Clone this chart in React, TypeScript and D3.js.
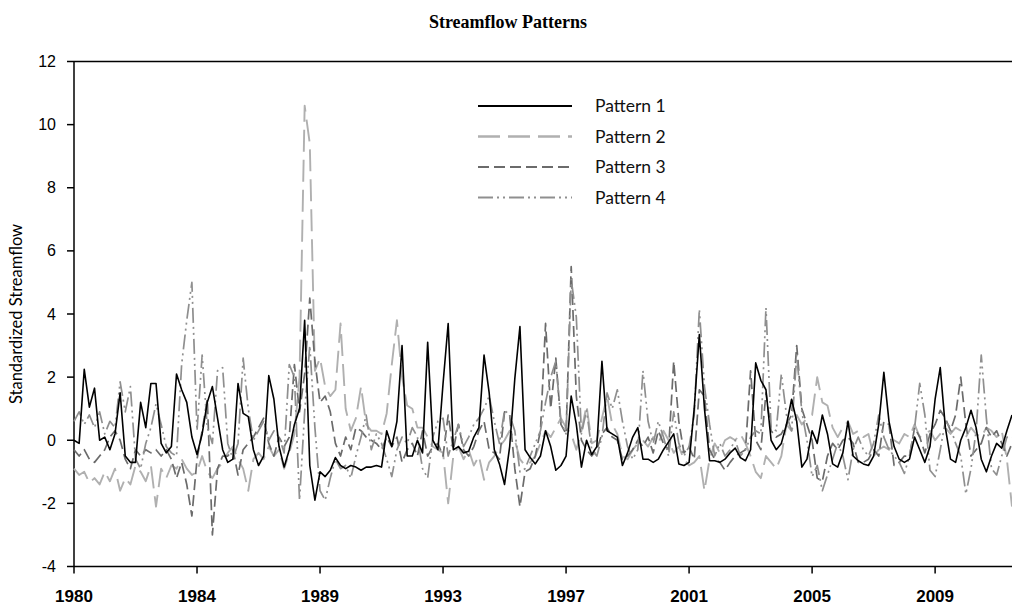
import * as d3 from 'd3'

// bi-monthly samples, Jan 1980 .. mid 2010
const YEAR_LABELS = ['1980', '1984', '1989', '1993', '1997', '2001', '2005', '2009']
const YEAR_INDEX = [0, 24, 48, 72, 96, 120, 144, 168]

const PATTERN_1 = [
  0.0, -0.1, 2.25, 1.05, 1.65, 0.0, 0.1, -0.3, 0.2, 1.5,
  -0.5, -0.7, -0.7, 1.2, 0.4, 1.8, 1.8, -0.1, -0.4, -0.2,
  2.1, 1.6, 1.2, 0.1, -0.45, 0.2, 1.2, 1.7, 0.7, -0.3,
  -0.7, -0.6, 1.8, 0.85, 0.75, -0.3, -0.8, -0.5, 2.05, 1.3,
  -0.2, -0.85, -0.3, 0.5, 1.0, 3.8, -0.8, -1.9, -1.0, -1.15,
  -0.95, -0.55, -0.8, -0.9, -0.8, -0.85, -0.95, -0.85, -0.85, -0.8,
  -0.85, 0.3, -0.2, 0.6, 3.0, -0.5, -0.5, 0.0, -0.4, 3.1,
  0.0, -0.3, 1.8, 3.7, -0.3, -0.2, -0.4, -0.35, 0.1, 0.4,
  2.7, 1.5, -0.3, -0.75, -1.4, -0.2, 1.95, 3.6, -0.3, -0.55,
  -0.75, -0.5, 0.3, -0.2, -0.95, -0.8, -0.5, 1.4, 0.5, -0.85,
  0.0, -0.45, -0.2, 2.5, 0.3, 0.2, 0.1, -0.8, -0.4, 0.1,
  0.4, -0.6, -0.6, -0.7, -0.6, -0.3, -0.05, 0.2, -0.75, -0.8,
  -0.7, 1.0, 3.35, 1.0, -0.65, -0.65, -0.7, -0.6, -0.4, -0.25,
  -0.55, -0.65, -0.3, 2.45, 1.9, 1.6, 0.0, -0.3, -0.1, 0.5,
  1.3, 0.6, -0.85, -0.6, 0.3, -0.1, 0.8, 0.2, -0.75, -0.85,
  -0.4, 0.6, -0.5, -0.65, -0.75, -0.8, -0.5, 0.5, 2.15, 0.6,
  -0.2, -0.6, -0.7, -0.6, 0.1, -0.3, -0.7, -0.2, 1.3, 2.3,
  0.4, -0.6, -0.7, 0.0, 0.4, 0.95, 0.4, -0.6, -1.0, -0.5,
  -0.1, -0.25, 0.3, 0.8,
]

const PATTERN_2 = [
  -0.9, -1.1, -1.0, -1.35, -1.2, -1.4, -1.0, -1.3, -0.9, -1.6,
  -1.2, -1.4, -0.8, -1.0, -1.3, -0.8, -2.1, -0.9, -1.2, -0.8,
  -0.9, -0.6, -0.9, -1.1, -1.0, -0.5, -1.0, -1.2, -0.9, -0.7,
  -0.4, -0.2, -0.6, -0.9, -1.6, -0.6, -0.4, -0.6, -0.2, -0.5,
  -0.3, -0.9, -0.4, 0.2, 2.0, 10.6, 9.4, 2.2, 2.6, 1.7,
  1.4, 1.6, 3.7, 1.0, 0.3, 0.7, 1.7, 0.5, 0.3, 0.3,
  0.2, 0.85, 2.4, 3.8, 2.0, 1.1, 1.0, 0.4, 0.4, 0.1,
  -0.2, -0.3, -0.4, -2.0, -0.5, -0.2, -0.6, -0.3, -0.8, -0.5,
  -1.25, -0.7, -0.5, -0.2, 0.0, 0.3, 0.0, -0.6, -0.8, -0.7,
  -0.5, -0.1, 0.3, 0.1, 0.4, 0.7, 0.4, 0.2, -0.3, 0.3,
  1.1, -0.1, 0.0, 0.7, 1.4, 0.5, 0.2, -0.5, -0.6, -0.3,
  -0.1, 0.0, -0.2, 0.1, -0.1, 0.3, 0.0, -0.4, -0.2, -0.6,
  -0.8, -0.7, -0.5, -1.6, -0.6, -0.1, -0.4, 0.0, 0.1, 0.0,
  0.2, -0.1, -0.5, -1.0, -1.2, -0.5, -0.7, -0.9, -0.5, 0.5,
  0.3, 0.8, 0.5, 0.7, 0.8, 2.0, 1.2, 1.1, 0.4, 0.1,
  0.4, 0.6, 0.2, 0.3, 0.1, 0.2, -0.5, -0.3, -0.2, -0.3,
  0.0, -0.1, 0.2, 0.1, 0.5, 0.1, 0.2, 0.3, 0.0, 0.2,
  0.4, 0.2, 0.4, 0.3, 0.1, 0.4, 0.2, 0.1, 0.4, 0.3,
  0.1, 0.3, -0.6, -2.1,
]

const PATTERN_3 = [
  -0.3, -0.5, -0.3, -0.6, -0.7, -0.5, -0.3, 0.1, 0.3, 0.0,
  -0.6, -0.9, -0.3, -0.5, -0.3, -0.4, -0.3, -0.5, -0.3, -0.6,
  -1.2, -0.7, -1.4, -2.4, -0.6, 0.3, 1.3, -3.0, -0.9, -0.5,
  -0.5, -0.3, -1.1, -0.3, -0.1, 0.1, 0.4, 0.7, -0.1, -0.5,
  0.1, -0.2, 0.1, 2.4, 0.9, 2.1, 4.5, 2.5, 1.2, 1.4,
  0.9, -0.1, -0.5, 0.1, -0.3, 0.4, 0.3, 0.1, 0.0, -0.1,
  -0.3, 0.1, -0.2, 0.1, -0.7, -0.3, -0.1, -0.5, 0.3, -0.5,
  -0.2, -0.1, -0.5, 0.8, -0.3, 0.5, -0.3, -0.5, -0.2, 0.3,
  0.6, -0.3, -0.4, -0.6, 0.9, 0.8, -0.9, -2.1, -1.0, -0.9,
  -0.5, 0.3, 3.7, 1.0, 2.6, 0.5, 0.2, 5.5, 1.4, 0.0,
  -0.3, -0.5, -0.3, 0.2, 0.4, 0.1, 0.0, -0.6, -0.5, -0.3,
  0.0, -0.2, 0.1, -0.4, 0.3, -0.1, -0.3, 2.5, 0.6, -0.4,
  -0.2, -0.6, 1.6, 1.4, -0.3, -0.6, -0.7, -0.95, -0.7, -0.5,
  -0.4, -0.3, 2.2, 0.0, -0.3, 1.5, 0.3, 0.1, 0.2, 0.5,
  0.8, 3.0, 1.0, 0.5, 0.0, -1.2, -1.3, -0.5, -0.1, -0.3,
  0.0, 0.1, -0.1, -0.7, -0.7, -0.6, -0.3, -0.5, 0.6, 0.5,
  -0.8, -0.7, -0.5, -0.5, 0.4, 0.1, -0.4, 0.2, 0.5, 0.95,
  0.7, 0.3, 0.8, 2.0, 0.5, -0.5, -0.3, -0.1, 0.4, 0.1,
  0.3, -0.1, -0.5, -0.1,
]

const PATTERN_4 = [
  0.6, 0.9, 0.5, 0.8, 0.4, 0.9, 0.2, 0.6, 0.4, 1.85,
  0.9, 1.7, -0.6, -0.9, -0.1, 0.4, 1.15, 0.5, -0.2, -0.4,
  -0.5, 2.4, 3.8, 5.0, 0.3, 2.7, 0.4, -0.1, 2.2, 2.3,
  -0.1, -0.6, -0.1, 2.6, 1.0, 0.0, 0.3, 0.6, 0.0, 0.3,
  0.1, -0.4, 2.4, 2.0, -1.9, 0.9, 3.0, 0.4, -1.6, -1.9,
  -1.2, -0.6, -0.9, -0.8, -1.2, -0.5, 0.1, 0.8, -0.3, 0.2,
  -0.1, -0.6, -1.15, -0.3, 0.1, -0.1, 0.4, 0.1, -0.9, -1.2,
  0.1, 0.6, 0.7, -0.5, 0.0, 0.5, -0.2, 0.1, 0.5, 0.7,
  1.0, 1.4, 0.6, -0.1, 0.95, 0.8, 0.3, -1.0, -0.9, -0.5,
  -0.1, 0.3, 1.2, 2.0, 2.5, 0.6, 0.2, 5.1, 3.9, 0.2,
  0.95, -0.3, -0.5, 0.1, 1.5, 1.0, 1.6, 0.6, -0.2, -0.6,
  -0.3, 2.2, 0.6, -0.1, 0.6, 0.1, -0.5, 0.9, -0.1, -0.5,
  -0.2, 0.8, 4.15, 1.7, 0.5, -0.5, -0.1, -0.5, -0.3, 0.0,
  -0.5, -0.3, 0.1, 0.3, 0.2, 4.2, 0.4, 0.3, 2.1, 0.8,
  0.3, 2.7, 0.9, 0.0, -1.15, -0.8, -1.6, -1.1, -0.6, -0.1,
  -0.5, -1.25, -0.3, 0.1, -0.3, -0.5, -0.1, 0.8, 0.1, -0.3,
  -0.5, -0.7, -1.05, -0.5, 0.4, 1.8, 0.8, -0.95, -1.15, -0.3,
  0.6, 0.4, -0.1, -0.5, -1.7, -0.9, 0.3, 2.7, 0.7, -0.9,
  -1.1, -0.5, 0.1, 0.1,
]

const Y_TICKS = [-4, -2, 0, 2, 4, 6, 8, 10, 12]

const SERIES = [
  { name: 'Pattern 1', data: PATTERN_1, color: '#000000', width: 1.6, dash: '' },
  { name: 'Pattern 2', data: PATTERN_2, color: '#b0b0b0', width: 1.9, dash: '22,8' },
  { name: 'Pattern 3', data: PATTERN_3, color: '#6b6b6b', width: 1.7, dash: '11,5' },
  { name: 'Pattern 4', data: PATTERN_4, color: '#8f8f8f', width: 1.7, dash: '15,4,2,4,2,4' },
]

const W = 1012
const H = 613
const PLOT = { left: 74, right: 1012, top: 61.5, bottom: 566.5 }
const SANS = "Lato, 'Open Sans', sans-serif"
const ARIAL = "'Liberation Sans', Arial, sans-serif"

export default function App() {
  const x = d3.scaleLinear().domain([0, PATTERN_1.length - 1]).range([PLOT.left, PLOT.right])
  const y = d3.scaleLinear().domain([-4, 12]).range([PLOT.bottom, PLOT.top])

  const line = d3
    .line<number>()
    .x((_, i) => x(i))
    .y((d) => y(d))

  // draw black last so it sits on top
  const drawOrder = [1, 2, 3, 0]

  return (
    <svg
      width={W}
      height={H}
      style={{ position: 'absolute', left: 0, top: 0, background: '#fff' }}
    >
      <text
        x={508}
        y={28}
        textAnchor="middle"
        fontFamily="'Liberation Serif', 'Times New Roman', serif"
        fontWeight="bold"
        fontSize={18}
      >
        Streamflow Patterns
      </text>

      {/* y axis */}
      <line x1={PLOT.left} x2={PLOT.left} y1={PLOT.top} y2={PLOT.bottom} stroke="#000" strokeWidth={1.5} />
      <line x1={PLOT.left} x2={PLOT.right} y1={PLOT.top} y2={PLOT.top} stroke="#000" strokeWidth={1.5} />
      {Y_TICKS.map((t) => (
        <g key={t}>
          <line x1={PLOT.left - 7} x2={PLOT.left} y1={y(t)} y2={y(t)} stroke="#000" strokeWidth={1.5} />
          <text x={56} y={y(t) + 5.5} textAnchor="end" fontFamily={ARIAL} fontSize={16}>
            {t}
          </text>
        </g>
      ))}
      <text
        transform={`translate(22,${(PLOT.top + PLOT.bottom) / 2}) rotate(-90)`}
        textAnchor="middle"
        fontFamily={SANS}
        fontSize={16.5}
      >
        Standardized Streamflow
      </text>

      {/* x axis */}
      <line x1={PLOT.left} x2={PLOT.right} y1={PLOT.bottom} y2={PLOT.bottom} stroke="#000" strokeWidth={1.5} />
      {YEAR_INDEX.map((idx, k) => (
        <g key={idx}>
          <line x1={x(idx)} x2={x(idx)} y1={PLOT.bottom} y2={PLOT.bottom + 7} stroke="#000" strokeWidth={1.5} />
          <text
            x={x(idx)}
            y={602}
            textAnchor="middle"
            fontFamily="'Liberation Sans Narrow', 'Arial Narrow', sans-serif"
            fontWeight="bold"
            fontSize={17}
          >
            {YEAR_LABELS[k]}
          </text>
        </g>
      ))}

      {/* series */}
      {drawOrder.map((si) => {
        const s = SERIES[si]
        return (
          <path
            key={s.name}
            d={line(s.data) ?? ''}
            fill="none"
            stroke={s.color}
            strokeWidth={s.width}
            strokeDasharray={s.dash || undefined}
            strokeLinejoin="round"
          />
        )
      })}

      {/* legend */}
      {SERIES.map((s, i) => {
        const ly = 106 + i * 30.5
        return (
          <g key={s.name}>
            <line
              x1={478}
              x2={572}
              y1={ly}
              y2={ly}
              stroke={s.color}
              strokeWidth={s.width + 0.4}
              strokeDasharray={s.dash || undefined}
            />
            <text x={595} y={ly + 6} fontFamily={SANS} fontSize={17.5} fill="#111">
              {s.name}
            </text>
          </g>
        )
      })}
    </svg>
  )
}
